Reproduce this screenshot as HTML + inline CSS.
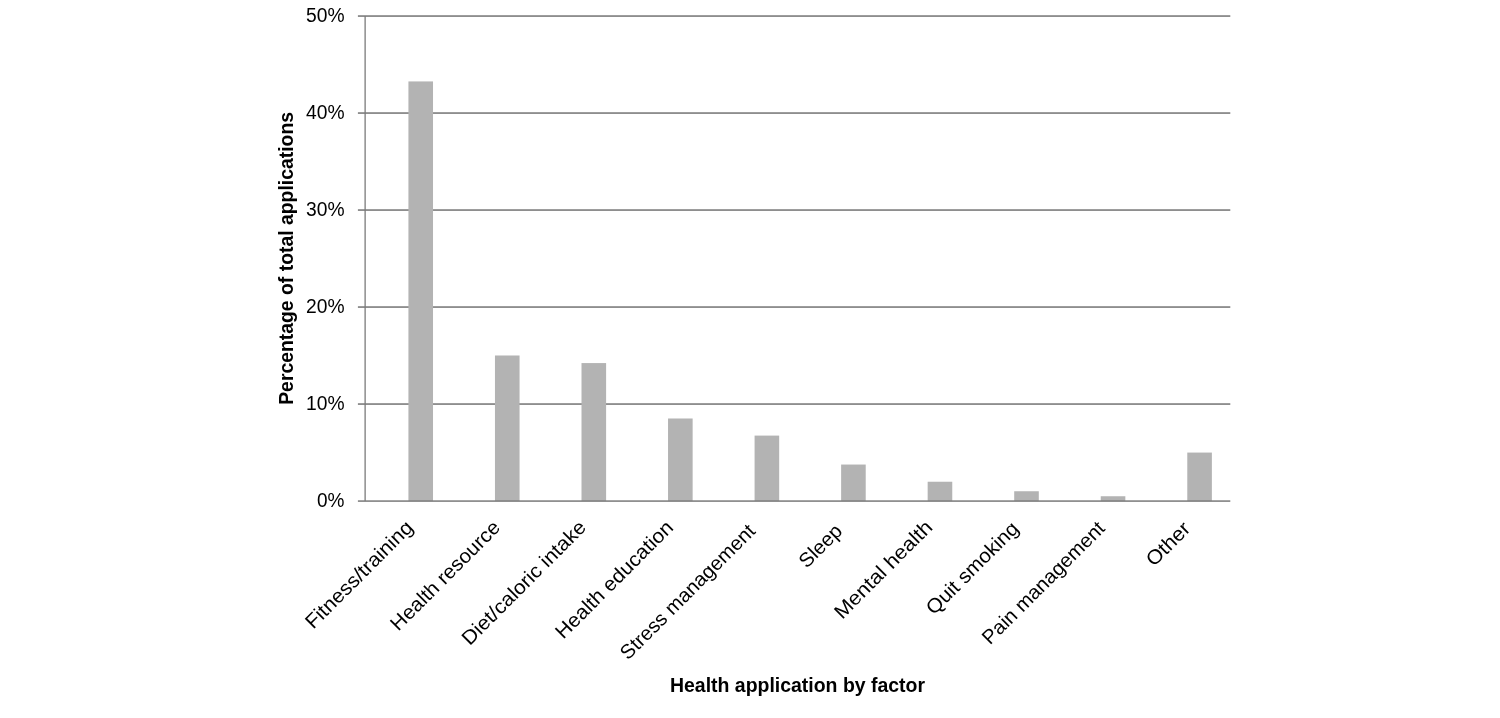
<!DOCTYPE html><html><head><meta charset="utf-8"><style>
html,body{margin:0;padding:0;background:#fff;}
svg{display:block;will-change:transform;}
text{font-family:"Liberation Sans",sans-serif;fill:#000;}
</style></head><body>
<svg width="1500" height="718" viewBox="0 0 1500 718">
<rect x="357.9" y="15.27" width="872.40" height="1.57" fill="#7a7a7a"/>
<rect x="357.9" y="112.27" width="872.40" height="1.57" fill="#7a7a7a"/>
<rect x="357.9" y="209.27" width="872.40" height="1.57" fill="#7a7a7a"/>
<rect x="357.9" y="306.27" width="872.40" height="1.57" fill="#7a7a7a"/>
<rect x="357.9" y="403.27" width="872.40" height="1.57" fill="#7a7a7a"/>
<rect x="408.42" y="81.43" width="24.6" height="419.62" fill="#b3b3b3"/>
<rect x="494.96" y="355.49" width="24.6" height="145.56" fill="#b3b3b3"/>
<rect x="581.50" y="363.07" width="24.6" height="137.98" fill="#b3b3b3"/>
<rect x="668.04" y="418.49" width="24.6" height="82.56" fill="#b3b3b3"/>
<rect x="754.58" y="435.59" width="24.6" height="65.46" fill="#b3b3b3"/>
<rect x="841.12" y="464.54" width="24.6" height="36.51" fill="#b3b3b3"/>
<rect x="927.66" y="481.74" width="24.6" height="19.31" fill="#b3b3b3"/>
<rect x="1014.20" y="491.25" width="24.6" height="9.80" fill="#b3b3b3"/>
<rect x="1100.74" y="496.24" width="24.6" height="4.81" fill="#b3b3b3"/>
<rect x="1187.28" y="452.57" width="24.6" height="48.48" fill="#b3b3b3"/>
<rect x="364.47" y="16.05" width="1.29" height="485.00" fill="#7a7a7a"/>
<rect x="357.9" y="500.33" width="872.40" height="1.5" fill="#7a7a7a"/>
<text x="344.5" y="21.80" font-size="20.5" text-anchor="end" textLength="38.5" lengthAdjust="spacingAndGlyphs">50%</text>
<text x="344.5" y="118.80" font-size="20.5" text-anchor="end" textLength="38.5" lengthAdjust="spacingAndGlyphs">40%</text>
<text x="344.5" y="215.80" font-size="20.5" text-anchor="end" textLength="38.5" lengthAdjust="spacingAndGlyphs">30%</text>
<text x="344.5" y="312.80" font-size="20.5" text-anchor="end" textLength="38.5" lengthAdjust="spacingAndGlyphs">20%</text>
<text x="344.5" y="409.80" font-size="20.5" text-anchor="end" textLength="38.5" lengthAdjust="spacingAndGlyphs">10%</text>
<text x="344.5" y="506.80" font-size="20.5" text-anchor="end" textLength="27.5" lengthAdjust="spacingAndGlyphs">0%</text>
<text transform="translate(292.8,404.8) rotate(-90)" font-size="19.8" font-weight="bold" textLength="292.8" lengthAdjust="spacingAndGlyphs">Percentage of total applications</text>
<text x="670" y="692.1" font-size="20" font-weight="bold" textLength="255" lengthAdjust="spacingAndGlyphs">Health application by factor</text>
<text transform="translate(414.17,528.80) rotate(-45)" font-size="20" text-anchor="end" textLength="142.9" lengthAdjust="spacingAndGlyphs">Fitness/training</text>
<text transform="translate(501.46,528.75) rotate(-45)" font-size="20" text-anchor="end" textLength="145.8" lengthAdjust="spacingAndGlyphs">Health resource</text>
<text transform="translate(587.40,528.50) rotate(-45)" font-size="20" text-anchor="end" textLength="166.4" lengthAdjust="spacingAndGlyphs">Diet/caloric intake</text>
<text transform="translate(674.39,528.70) rotate(-45)" font-size="20" text-anchor="end" textLength="157.2" lengthAdjust="spacingAndGlyphs">Health education</text>
<text transform="translate(756.43,532.30) rotate(-45)" font-size="20" text-anchor="end" textLength="181.5" lengthAdjust="spacingAndGlyphs">Stress management</text>
<text transform="translate(843.42,532.15) rotate(-45)" font-size="20" text-anchor="end" textLength="52" lengthAdjust="spacingAndGlyphs">Sleep</text>
<text transform="translate(933.66,528.45) rotate(-45)" font-size="20" text-anchor="end" textLength="129.4" lengthAdjust="spacingAndGlyphs">Mental health</text>
<text transform="translate(1020.00,529.90) rotate(-45)" font-size="20" text-anchor="end" textLength="121.5" lengthAdjust="spacingAndGlyphs">Quit smoking</text>
<text transform="translate(1106.09,529.55) rotate(-45)" font-size="20" text-anchor="end" textLength="164.1" lengthAdjust="spacingAndGlyphs">Pain management</text>
<text transform="translate(1191.58,529.80) rotate(-45)" font-size="20" text-anchor="end" textLength="53.1" lengthAdjust="spacingAndGlyphs">Other</text>
</svg></body></html>
